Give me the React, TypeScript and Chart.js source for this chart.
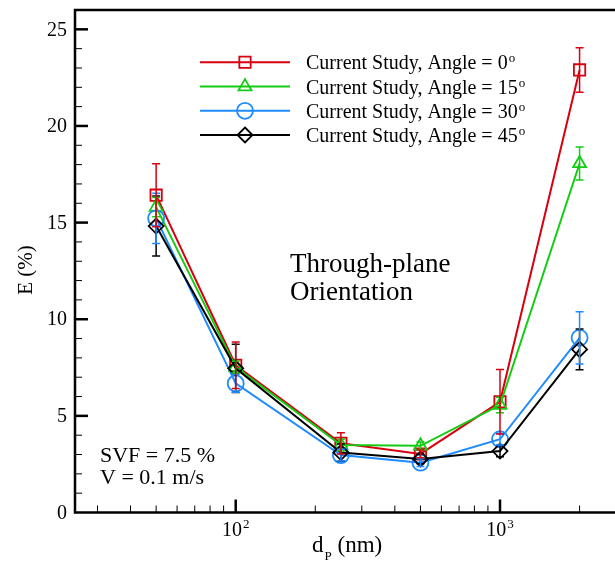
import React, { useEffect, useRef } from 'react';
import { Chart, registerables } from 'chart.js';
Chart.register(...registerables);

const FONT = '"Liberation Serif", "Times New Roman", serif';

const diameters = [50, 100, 250, 500, 1000, 2000];
const angle0 = [16.42, 7.62, 3.58, 3.03, 5.73, 22.9];
const angle0Err = [1.63, 1.2, 0.55, 0.2, 1.67, 1.15];
const angle15 = [15.8, 7.52, 3.49, 3.45, 5.56, 18.06];
const angle15Err = [0.5, 0.3, 0.3, 0.2, 0.4, 0.85];
const angle30 = [15.22, 6.68, 2.97, 2.58, 3.79, 9.04];
const angle30Err = [1.3, 0.46, 0.3, 0.2, 0.3, 1.35];
const angle45 = [14.82, 7.46, 3.1, 2.77, 3.18, 8.44];
const angle45Err = [1.55, 1.25, 0.45, 0.25, 0.3, 1.06];
const angleLabels = ['0', '15', '30', '45'];
const seriesColors = ['#d8000f', '#13cc13', '#1e8cff', '#000000'];
const pointStyles = ['rect', 'triangle', 'circle', 'rectRot'];
const pointRadii = [8, 7.5, 8, 7.5];
const yTicks = [0, 5, 10, 15, 20, 25];
const xMajorTicks = [100, 1000];
const xMajorExp = ['2', '3'];
const xMinorTicks = [30, 40, 50, 60, 70, 80, 90, 200, 300, 400, 500, 600, 700, 800, 900, 2000];
const X_MIN = 24.66;
const X_MAX = 2723;
const Y_MIN = 0;
const Y_MAX = 26;

const seriesValues = [angle0, angle15, angle30, angle45];
const seriesErrors = [angle0Err, angle15Err, angle30Err, angle45Err];

function drawMarker(ctx: CanvasRenderingContext2D, style: string, x: number, y: number, r: number) {
  ctx.beginPath();
  if (style === 'rect') {
    const s = Math.SQRT1_2 * r;
    ctx.rect(x - s, y - s, 2 * s, 2 * s);
  } else if (style === 'triangle') {
    for (let k = 0; k < 3; k++) {
      const a = -Math.PI / 2 + (k * 2 * Math.PI) / 3;
      const px = x + Math.cos(a) * r;
      const py = y + Math.sin(a) * r;
      if (k === 0) ctx.moveTo(px, py);
      else ctx.lineTo(px, py);
    }
    ctx.closePath();
  } else if (style === 'circle') {
    ctx.arc(x, y, r, 0, Math.PI * 2);
  } else {
    ctx.moveTo(x, y - r);
    ctx.lineTo(x + r, y);
    ctx.lineTo(x, y + r);
    ctx.lineTo(x - r, y);
    ctx.closePath();
  }
  ctx.stroke();
}

const errorBarPlugin = {
  id: 'errorBars',
  afterDatasetsDraw(chart: any) {
    const ctx: CanvasRenderingContext2D = chart.ctx;
    const xs = chart.scales.x;
    const ys = chart.scales.y;
    ctx.save();
    for (let i = seriesValues.length - 1; i >= 0; i--) {
      ctx.strokeStyle = seriesColors[i];
      ctx.lineWidth = 1.5;
      seriesValues[i].forEach((v, j) => {
        const e = seriesErrors[i][j];
        const x = xs.getPixelForValue(diameters[j]);
        const yt = ys.getPixelForValue(v + e);
        const yb = ys.getPixelForValue(v - e);
        ctx.beginPath();
        ctx.moveTo(x, yt);
        ctx.lineTo(x, yb);
        ctx.moveTo(x - 4, yt);
        ctx.lineTo(x + 4, yt);
        ctx.moveTo(x - 4, yb);
        ctx.lineTo(x + 4, yb);
        ctx.stroke();
      });
    }
    ctx.restore();
  },
};

const decorPlugin = {
  id: 'decor',
  afterDraw(chart: any) {
    const ctx: CanvasRenderingContext2D = chart.ctx;
    const { left, right, top, bottom } = chart.chartArea;
    const xs = chart.scales.x;
    const ys = chart.scales.y;
    ctx.save();
    ctx.strokeStyle = '#000';
    ctx.fillStyle = '#000';

    // frame
    ctx.lineWidth = 2.5;
    ctx.beginPath();
    ctx.moveTo(right + 2, top);
    ctx.lineTo(left, top);
    ctx.lineTo(left, bottom);
    ctx.lineTo(right + 2, bottom);
    ctx.stroke();

    // y ticks + labels
    for (let v = Y_MIN + 1; v < Y_MAX; v++) {
      const y = ys.getPixelForValue(v);
      const major = yTicks.includes(v);
      ctx.lineWidth = major ? 2.5 : 1;
      ctx.beginPath();
      ctx.moveTo(left, y);
      ctx.lineTo(left + (major ? 13 : 7), y);
      ctx.stroke();
    }
    ctx.font = `20px ${FONT}`;
    ctx.textAlign = 'right';
    ctx.textBaseline = 'middle';
    yTicks.forEach((v) => {
      ctx.fillText(String(v), left - 8, ys.getPixelForValue(v) + 1);
    });

    // x ticks
    xMinorTicks.forEach((t) => {
      const x = xs.getPixelForValue(t);
      ctx.lineWidth = 1;
      ctx.beginPath();
      ctx.moveTo(x, bottom);
      ctx.lineTo(x, bottom - 7);
      ctx.stroke();
    });
    ctx.textAlign = 'left';
    ctx.textBaseline = 'alphabetic';
    xMajorTicks.forEach((t, k) => {
      const x = xs.getPixelForValue(t);
      ctx.lineWidth = 2.5;
      ctx.beginPath();
      ctx.moveTo(x, bottom);
      ctx.lineTo(x, bottom - 13);
      ctx.stroke();
      ctx.font = `20px ${FONT}`;
      const wBase = ctx.measureText('10').width;
      ctx.font = `13px ${FONT}`;
      const wExp = ctx.measureText(xMajorExp[k]).width;
      const x0 = x - (wBase + wExp + 1) / 2;
      ctx.font = `20px ${FONT}`;
      ctx.fillText('10', x0, bottom + 23);
      ctx.font = `13px ${FONT}`;
      ctx.fillText(xMajorExp[k], x0 + wBase + 1, bottom + 15);
    });

    // axis titles
    ctx.font = `23px ${FONT}`;
    const dx = 312;
    ctx.fillText('d', dx, 552);
    const wd = ctx.measureText('d').width;
    ctx.font = `13px ${FONT}`;
    ctx.fillText('P', dx + wd + 1, 560);
    const wp = ctx.measureText('P').width;
    ctx.font = `23px ${FONT}`;
    ctx.fillText(' (nm)', dx + wd + wp + 1, 552);

    ctx.save();
    ctx.translate(32, 270);
    ctx.rotate(-Math.PI / 2);
    ctx.textAlign = 'center';
    ctx.font = `21px ${FONT}`;
    ctx.fillText('E (%)', 0, 0);
    ctx.restore();

    // annotations
    ctx.textAlign = 'left';
    ctx.font = `27px ${FONT}`;
    ctx.fillText('Through-plane', 290, 272);
    ctx.fillText('Orientation', 290, 300);
    ctx.font = `22px ${FONT}`;
    ctx.fillText('SVF = 7.5 %', 100, 462);
    ctx.fillText('V = 0.1 m/s', 100, 484);

    // legend
    const rowY = [62.3, 86.6, 110.8, 135];
    angleLabels.forEach((a, i) => {
      const y = rowY[i];
      ctx.strokeStyle = seriesColors[i];
      ctx.lineWidth = 2;
      ctx.beginPath();
      ctx.moveTo(200, y);
      ctx.lineTo(290, y);
      ctx.stroke();
      ctx.lineWidth = 1.8;
      drawMarker(ctx, pointStyles[i], 245, y, pointRadii[i]);
      ctx.fillStyle = '#000';
      ctx.font = `20px ${FONT}`;
      const txt = `Current Study, Angle = ${a}`;
      ctx.fillText(txt, 306, y + 7);
      const w = ctx.measureText(txt).width;
      ctx.font = `13px ${FONT}`;
      ctx.fillText('o', 306 + w + 1, y);
    });
    ctx.restore();
  },
};

export default function App() {
  const ref = useRef<HTMLCanvasElement | null>(null);
  useEffect(() => {
    if (!ref.current) return;
    const datasets = seriesValues.map((vals, i) => ({
      label: `Current Study, Angle = ${angleLabels[i]}`,
      data: diameters.map((d, j) => ({ x: d, y: vals[j] })),
      borderColor: seriesColors[i],
      backgroundColor: 'transparent',
      borderWidth: 2,
      pointStyle: pointStyles[i],
      pointRadius: pointRadii[i],
      pointBorderWidth: 1.8,
      pointBackgroundColor: 'rgba(0,0,0,0)',
      pointBorderColor: seriesColors[i],
      tension: 0,
      order: seriesValues.length - 1 - i,
    }));
    const chart = new Chart(ref.current, {
      type: 'line',
      data: { datasets } as any,
      options: {
        animation: false,
        responsive: false,
        clip: false as any,
        layout: { autoPadding: false, padding: { top: 10, left: 0, right: 0, bottom: 0 } },
        plugins: { legend: { display: false }, tooltip: { enabled: false } },
        scales: {
          x: {
            type: 'logarithmic',
            min: X_MIN,
            max: X_MAX,
            grid: { display: false, drawTicks: false },
            border: { display: false },
            ticks: { display: false },
            afterFit: (s: any) => {
              s.height = 49.5;
            },
          },
          y: {
            type: 'linear',
            min: Y_MIN,
            max: Y_MAX,
            grid: { display: false, drawTicks: false },
            border: { display: false },
            ticks: { display: false },
            afterFit: (s: any) => {
              s.width = 75;
            },
          },
        },
      } as any,
      plugins: [errorBarPlugin, decorPlugin],
    });
    return () => chart.destroy();
  }, []);
  return (
    <div style={{ position: 'absolute', left: 0, top: 0, width: 615, height: 562, background: '#fff' }}>
      <canvas ref={ref} width={615} height={562} style={{ display: 'block' }} />
    </div>
  );
}
